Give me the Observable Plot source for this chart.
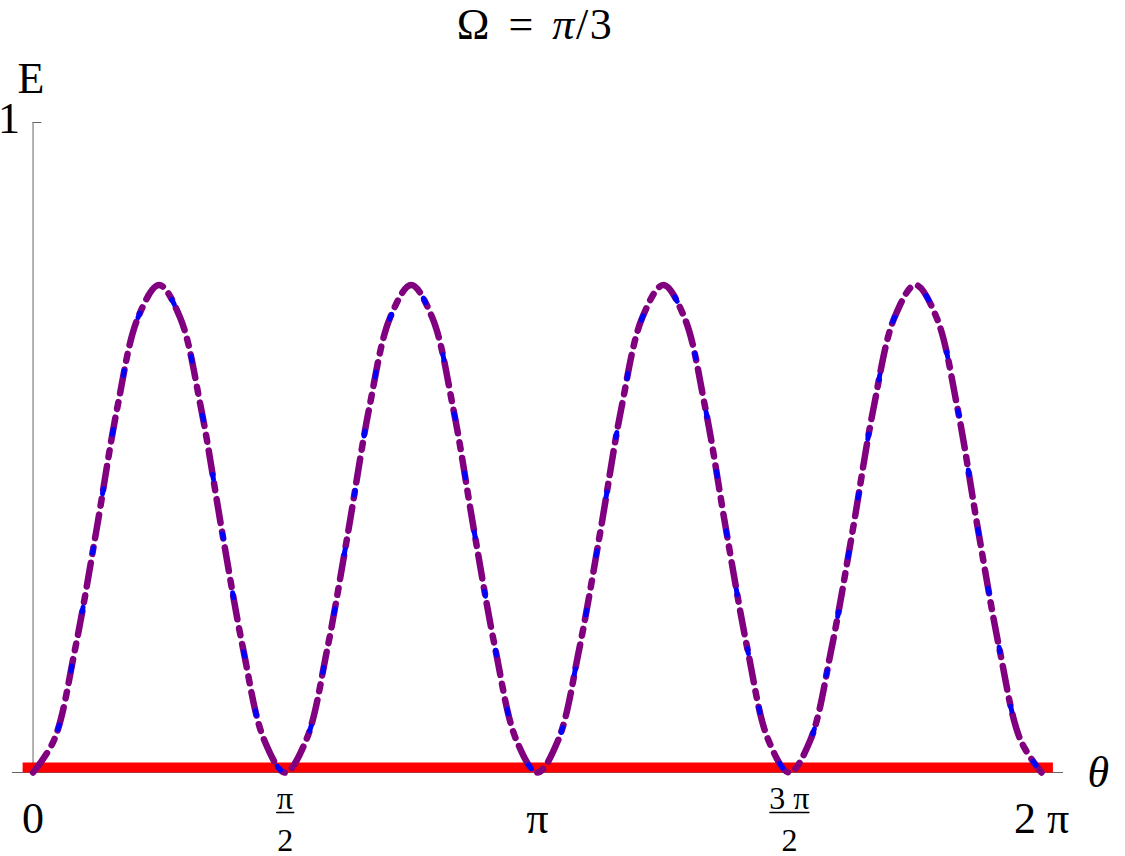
<!DOCTYPE html>
<html>
<head>
<meta charset="utf-8">
<script src="https://cdn.jsdelivr.net/npm/d3@7"></script>
<script src="https://cdn.jsdelivr.net/npm/@observablehq/plot@0.6"></script>
<style>
  html, body { margin: 0; padding: 0; background: #fff; }
  #title {
    width: 1070px; height: 49px; line-height: 49px; text-align: center;
    font-family: "Liberation Serif", "Times New Roman", serif; font-size: 44px; color: #000;
    word-spacing: 5px; letter-spacing: 1.5px;
  }
  #chart svg { display: block; }
</style>
</head>
<body>
<div id="title">Ω = <i>π</i>/3</div>
<div id="chart"></div>
<script>
// ---- data ----
const theta = [0, 0.131, 0.262, 0.393, 0.524, 0.654, 0.785, 0.916, 1.047, 1.178, 1.309, 1.440,
  1.571, 1.702, 1.833, 1.963, 2.094, 2.225, 2.356, 2.487, 2.618, 2.749, 2.880, 3.011,
  3.142, 3.272, 3.403, 3.534, 3.665, 3.796, 3.927, 4.058, 4.189, 4.320, 4.451, 4.581,
  4.712, 4.843, 4.974, 5.105, 5.236, 5.367, 5.498, 5.629, 5.760, 5.890, 6.021, 6.152, 6.283];
const blueE = [0, 0.05, 0.19, 0.37, 0.56, 0.70, 0.75, 0.70, 0.56, 0.37, 0.19, 0.05,
  0, 0.05, 0.19, 0.37, 0.56, 0.70, 0.75, 0.70, 0.56, 0.37, 0.19, 0.05,
  0, 0.05, 0.19, 0.37, 0.56, 0.70, 0.75, 0.70, 0.56, 0.37, 0.19, 0.05,
  0, 0.05, 0.19, 0.37, 0.56, 0.70, 0.75, 0.70, 0.56, 0.37, 0.19, 0.05, 0];
const purpleE = [0, 0.05, 0.19, 0.37, 0.56, 0.70, 0.75, 0.70, 0.56, 0.37, 0.19, 0.05,
  0, 0.05, 0.19, 0.37, 0.56, 0.70, 0.75, 0.70, 0.56, 0.37, 0.19, 0.05,
  0, 0.05, 0.19, 0.37, 0.56, 0.70, 0.75, 0.70, 0.56, 0.37, 0.19, 0.05,
  0, 0.05, 0.19, 0.37, 0.56, 0.70, 0.75, 0.70, 0.56, 0.37, 0.19, 0.05, 0];
const redTheta = [-0.065, 6.354];
const redE = [0.0077, 0.0077];

const xDomain = [-0.128, 6.42];
const yDomain = [0, 1];
const xTicks = [0, Math.PI / 2, Math.PI, 3 * Math.PI / 2, 2 * Math.PI];
const xTickLabels = ["0", "π/2", "π", "3 π/2", "2 π"];
const yTicks = [1];
const yTickLabels = ["1"];
const yLabel = "E";
const xLabel = "θ";

// ---- tables built from the arrays ----
const blue = theta.map((t, i) => ({t, e: blueE[i]}));
const purple = theta.map((t, i) => ({t, e: purpleE[i]}));
const red = redTheta.map((t, i) => ({t, e: redE[i]}));
const ticks = xTicks.map((v, i) => {
  const [num, den] = xTickLabels[i].split("/");
  return {v, label: xTickLabels[i], num, den, frac: den !== undefined};
});
const fracs = ticks.filter(d => d.frac);
const yt = yTicks.map((v, i) => ({v, label: yTickLabels[i]}));

const tickUp = {draw(c, l) { c.moveTo(0, 0); c.lineTo(0, -l); }};
const tickRight = {draw(c, l) { c.moveTo(0, 0); c.lineTo(l, 0); }};
const bar = {draw(c, l) { c.moveTo(-l / 2, 0); c.lineTo(l / 2, 0); }};
const font = "'Liberation Serif', 'Times New Roman', serif";

const chart = Plot.plot({
  width: 1125, height: 807,
  marginLeft: 12, marginRight: 62, marginTop: 73, marginBottom: 84,
  x: {domain: xDomain, axis: null},
  y: {domain: yDomain, axis: null},
  length: {type: "identity"},
  style: {fontFamily: font, background: "white", color: "black", overflow: "visible"},
  marks: [
    Plot.ruleY([0], {stroke: "#666", strokeWidth: 1}),
    Plot.ruleX([0], {stroke: "#666", strokeWidth: 1}),
    Plot.vector(ticks, {x: "v", frameAnchor: "bottom", length: 8, anchor: "start", shape: tickUp, stroke: "#222", strokeWidth: 1}),
    Plot.vector(yt, {x: () => 0, y: "v", length: 8, anchor: "start", shape: tickRight, stroke: "#666", strokeWidth: 1}),
    Plot.line(red, {x: "t", y: "e", stroke: "#ff0000", strokeWidth: 10, strokeLinecap: "butt"}),
    Plot.line(purple, {x: "t", y: "e", stroke: "#800080", strokeWidth: 6.5, strokeDasharray: "24,9,7,9", curve: "catmull-rom"}),
    Plot.line(blue, {x: "t", y: "e", stroke: "#0000ff", strokeWidth: 5, strokeDasharray: "5,55", strokeDashoffset: 10, curve: "catmull-rom"}),
    // x tick labels (whole)
    Plot.text(ticks.filter(d => !d.frac), {x: "v", frameAnchor: "bottom", text: "label", dy: 60, lineAnchor: "bottom", fontSize: 44, fill: "black"}),
    // x tick labels (fractions)
    Plot.text(fracs, {x: "v", frameAnchor: "bottom", text: "num", dy: 36, lineAnchor: "bottom", fontSize: 32, fill: "black"}),
    Plot.vector(fracs, {x: "v", frameAnchor: "bottom", dy: 40, length: d => 11 * d.num.length + 6, anchor: "start", shape: bar, stroke: "black", strokeWidth: 1.5}),
    Plot.text(fracs, {x: "v", frameAnchor: "bottom", text: "den", dy: 78, lineAnchor: "bottom", fontSize: 32, fill: "black"}),
    // y tick labels
    Plot.text(yt, {x: () => 0, y: "v", text: "label", textAnchor: "end", dx: -13, dy: -4, fontSize: 44, fill: "black"}),
    // axis labels
    Plot.text([yLabel], {x: () => 0, frameAnchor: "top", text: d => d, dx: -2, dy: -30, lineAnchor: "bottom", fontSize: 44, fill: "black"}),
    Plot.text([xLabel], {frameAnchor: "bottom-right", text: d => d, textAnchor: "start", lineAnchor: "bottom", dx: 24, dy: 14, fontSize: 44, fontStyle: "italic", fill: "black"})
  ]
});
document.getElementById("chart").appendChild(chart);
</script>
</body>
</html>
